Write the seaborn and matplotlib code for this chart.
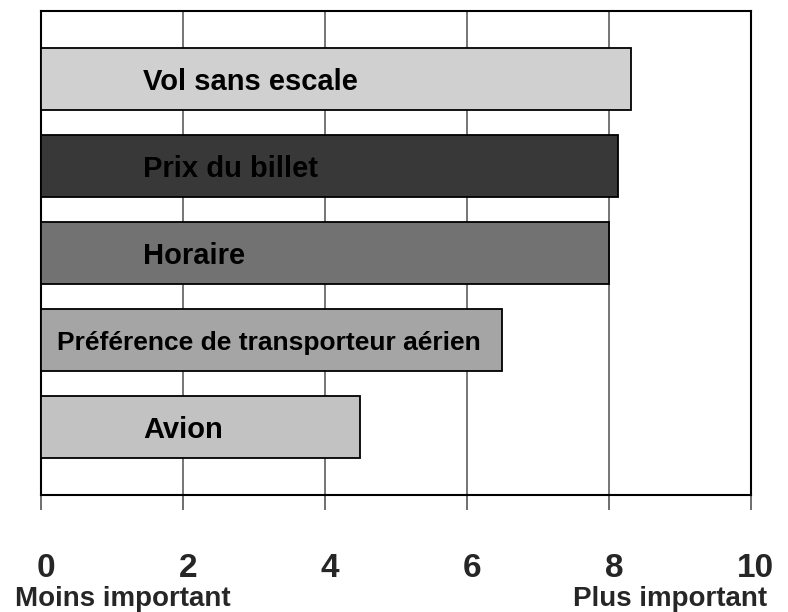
import matplotlib
matplotlib.use("Agg")
import matplotlib.pyplot as plt
import matplotlib.transforms as mtransforms
import seaborn as sns
import pandas as pd

categories = ["Vol sans escale", "Prix du billet", "Horaire",
              "Préférence de transporteur aérien", "Avion"]
values = [8.32, 8.13, 8.01, 6.5, 4.49]
bar_colors = ["#d0d0d0", "#383838", "#727272", "#a5a5a5", "#c2c2c2"]
tick_values = [0, 2, 4, 6, 8, 10]
tick_labels = ["0", "2", "4", "6", "8", "10"]
left_caption = "Moins important"
right_caption = "Plus important"

sns.set_style("white")
plt.rcParams["font.family"] = ["Liberation Sans", "DejaVu Sans"]

df = pd.DataFrame({"cat": categories, "val": values})

fig = plt.figure(figsize=(7.88, 6.12), dpi=100)
ax = fig.add_axes([41/788, 1-495/612, (750.7-41)/788, (495-11)/612])

sns.barplot(data=df, x="val", y="cat", hue="cat", palette=bar_colors,
            order=categories, hue_order=categories, legend=False,
            orient="h", width=0.71, edgecolor="black", linewidth=1.3,
            saturation=1, ax=ax, zorder=3)

ax.set_xlim(0, 10)
ax.set_ylim(4.78, -0.78)
ax.set_xlabel("")
ax.set_ylabel("")
ax.set_yticks([])

# grid
for gx in tick_values[1:-1]:
    ax.axvline(gx, color="#6a6a6a", linewidth=1.3, zorder=1)

for s in ax.spines.values():
    s.set_color("black")
    s.set_linewidth(1.5)
    s.set_visible(True)

ax.set_xticks(tick_values)
ax.set_xticklabels(tick_labels, fontsize=24, fontweight="bold")
ax.tick_params(axis="x", direction="out", length=11, width=1.2,
               color="#555555", pad=31, bottom=True)
offset = mtransforms.ScaledTranslation(5/100, 0, fig.dpi_scale_trans)
for lab in ax.get_xticklabels():
    lab.set_transform(lab.get_transform() + offset)

# bar labels
label_x = {"Préférence de transporteur aérien": 0.22}
label_size = {"Préférence de transporteur aérien": 19}
for i, cat in enumerate(categories):
    ax.text(label_x.get(cat, 1.44), i + 0.03, cat,
            fontsize=label_size.get(cat, 21), fontweight="bold",
            color="black", va="center", ha="left", zorder=5)

fig.text(15/788, 1-606/612, left_caption, fontsize=20, fontweight="bold",
         ha="left", va="baseline")
fig.text(767/788, 1-606/612, right_caption, fontsize=20, fontweight="bold",
         ha="right", va="baseline")

fig.savefig("out.png", dpi=100)
